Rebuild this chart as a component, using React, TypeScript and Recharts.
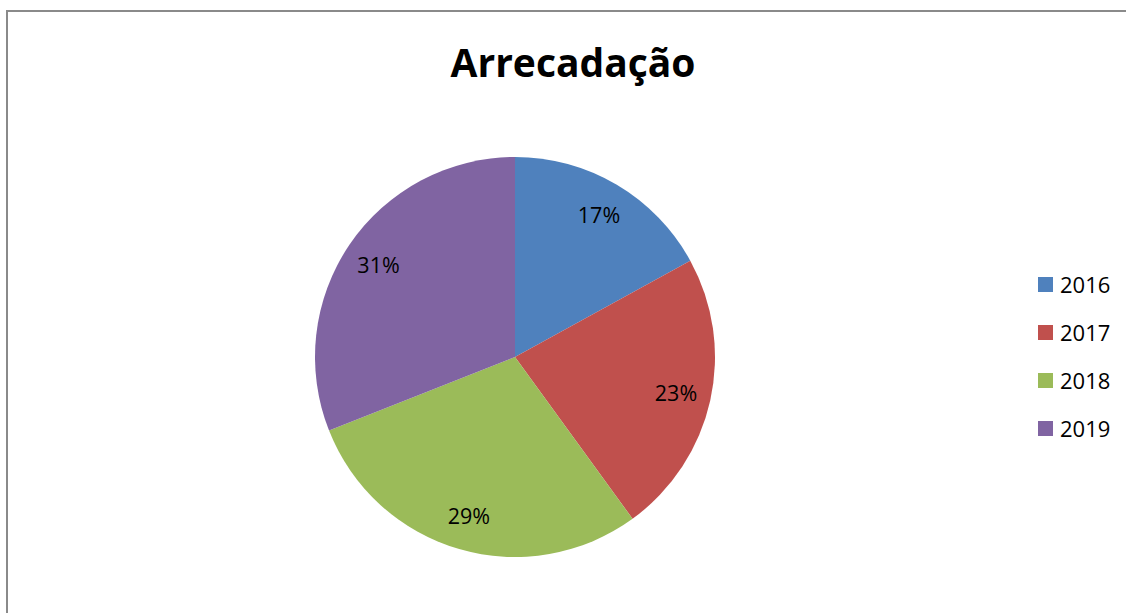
import React from 'react';
import { PieChart, Pie, Cell, Legend } from 'recharts';

const years = ['2016', '2017', '2018', '2019'];
const shares = [17, 23, 29, 31];
const colors = ['#4F81BD', '#C0504D', '#9BBB59', '#8064A2'];

const data = years.map((name, i) => ({ name, value: shares[i] }));

const RAD = Math.PI / 180;
const FONT = '"Open Sans", "Noto Sans", sans-serif';

const renderLabel = (props: any) => {
  const { cx, cy, midAngle, outerRadius, value } = props;
  const r = outerRadius * 0.825;
  const x = cx + r * Math.cos(-midAngle * RAD);
  const y = cy + r * Math.sin(-midAngle * RAD);
  return (
    <text x={x} y={y} fill="#000" textAnchor="middle" dominantBaseline="central"
      style={{ fontFamily: FONT, fontSize: 21.5 }}>
      {`${value}%`}
    </text>
  );
};

const LegendBox = () => (
  <div style={{ fontFamily: FONT, fontSize: 22, color: '#000' }}>
    {years.map((y, i) => (
      <div key={y} style={{ display: 'flex', alignItems: 'center', height: 48 }}>
        <span style={{ width: 15, height: 15, background: colors[i], marginRight: 7, display: 'inline-block' }} />
        <span>{y}</span>
      </div>
    ))}
  </div>
);

export default function App() {
  return (
    <div style={{ position: 'fixed', left: 0, top: 0, width: 1126, height: 613, background: '#fff', overflow: 'hidden' }}>
      <div style={{ position: 'absolute', left: 6, top: 10, width: 1200, height: 700, border: '2px solid #8a8a8a', boxSizing: 'border-box' }} />
      <div style={{ position: 'absolute', left: 0, top: 36, width: 1146, textAlign: 'center', fontFamily: FONT, fontWeight: 700, fontSize: 39, lineHeight: '52px', color: '#000' }}>
        Arrecadação
      </div>
      <PieChart width={1126} height={613} margin={{ top: 0, right: 0, bottom: 0, left: 0 }}
        style={{ position: 'absolute', left: 0, top: 0 }}>
        <Pie
          data={data}
          dataKey="value"
          nameKey="name"
          cx={515}
          cy={357}
          outerRadius={200}
          startAngle={90}
          endAngle={-270}
          stroke="none"
          label={renderLabel}
          labelLine={false}
          isAnimationActive={false}
        >
          {data.map((d, i) => (
            <Cell key={d.name} fill={colors[i]} />
          ))}
        </Pie>
        <Legend
          layout="vertical"
          content={() => <LegendBox />}
          wrapperStyle={{ position: 'absolute', left: 1038, top: 260, width: 90 }}
        />
      </PieChart>
    </div>
  );
}
